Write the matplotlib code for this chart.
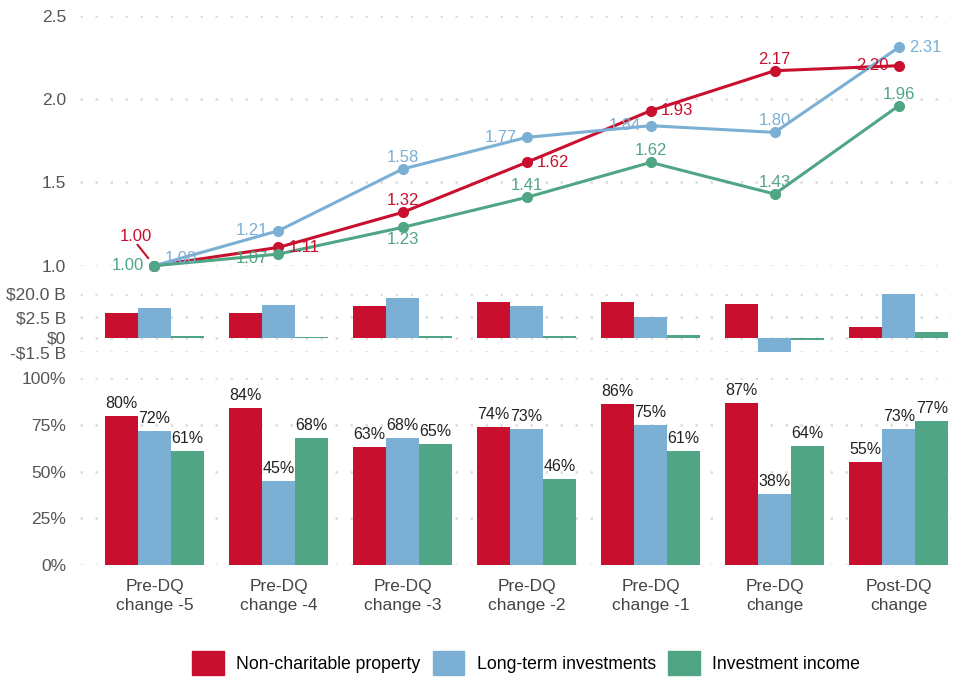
import numpy as np
import matplotlib.pyplot as plt
from matplotlib.patches import Patch

plt.rcParams['font.family'] = ['Liberation Sans', 'DejaVu Sans']

# periods along the x axis
periods = ["Pre-DQ\nchange -5", "Pre-DQ\nchange -4", "Pre-DQ\nchange -3",
           "Pre-DQ\nchange -2", "Pre-DQ\nchange -1", "Pre-DQ\nchange",
           "Post-DQ\nchange"]
series = ["Non-charitable property", "Long-term investments", "Investment income"]

# growth index (top panel)
idx_ncp = [1.00, 1.11, 1.32, 1.62, 1.93, 2.17, 2.20]
idx_lti = [1.00, 1.21, 1.58, 1.77, 1.84, 1.80, 2.31]
idx_inc = [1.00, 1.07, 1.23, 1.41, 1.62, 1.43, 1.96]

# change in dollars, billions (middle panel)
amt_ncp = [5.7, 5.7, 10.9, 13.8, 13.8, 12.4, 1.3]
amt_lti = [9.4, 11.6, 16.8, 10.9, 2.7, -1.5, 19.8]
amt_inc = [0.2, 0.05, 0.2, 0.2, 0.35, -0.2, 0.7]

# share of organisations, percent (bottom panel)
pct_ncp = [80, 84, 63, 74, 86, 87, 55]
pct_lti = [72, 45, 68, 73, 75, 38, 73]
pct_inc = [61, 68, 65, 46, 61, 64, 77]

# middle axis ticks and where they sit (compressed scale)
amt_ticks = [-1.5, 0, 2.5, 20.0]
amt_tick_labels = ["-$1.5 B", "$0", "$2.5 B", "$20.0 B"]
amt_tick_pos = [-14.6, 0.0, 20.4, 44.0]

colors = ["#C8102E", "#7BAFD4", "#4FA584"]
grid_kw = dict(color="#dcdcdc", linestyle=(0, (1, 5)), linewidth=1.8)

# label offsets in pixels for each point of each line (dx, dy, ha, va)
R, L, A, B = (10, 0, "left", "center"), (-10, 0, "right", "center"), \
    (0, 4, "center", "bottom"), (0, -5, "center", "top")
off_ncp = [(-19, 22, "center", "bottom"), R, A, R, R, A, L]
off_lti = [(10, 7, "left", "center"), L, A, L, L, A, R]
off_inc = [L, (-10, -4, "right", "center"), B, A, A, A, A]

x = np.arange(len(periods))
w = 0.8 / 3
xlim = (-0.6, 6.42)

fig = plt.figure(figsize=(9.57, 6.77), dpi=100)
ax1 = fig.add_axes([0.0836, 0.6075, 0.910, 0.3693])
ax2 = fig.add_axes([0.0836, 0.4796, 0.910, 0.0866])
ax3 = fig.add_axes([0.0836, 0.1654, 0.910, 0.2758])

for ax in (ax1, ax2, ax3):
    for s in ax.spines.values():
        s.set_visible(False)
    ax.tick_params(length=0, labelsize=12.5, labelcolor="#555555", pad=10)
    ax.set_xlim(*xlim)
    ax.set_axisbelow(True)
    ax.yaxis.grid(True, **grid_kw)

# --- top: index lines
for vals, c, offs in zip([idx_ncp, idx_lti, idx_inc], colors,
                         [off_ncp, off_lti, off_inc]):
    ax1.plot(x, vals, color=c, lw=2.2, marker="o", ms=7, clip_on=False,
             zorder=3)
    for xi, v, (dx, dy, ha, va) in zip(x, vals, offs):
        ax1.annotate(f"{v:.2f}", (xi, v), xytext=(dx, dy),
                     textcoords="offset pixels", ha=ha, va=va, color=c,
                     fontsize=12, zorder=4)
# leader line for the first red label
ax1.annotate("", (x[0], idx_ncp[0]), xytext=(-17, 21),
             textcoords="offset pixels",
             arrowprops=dict(arrowstyle="-", color=colors[0], lw=1.5,
                             shrinkA=0, shrinkB=7))
ax1.set_ylim(1.0, 2.5)
ax1.set_yticks([1.0, 1.5, 2.0, 2.5])
ax1.set_xticks([])

# --- middle: dollar change on a compressed scale
def fwd(v):
    return np.interp(v, amt_ticks, amt_tick_pos)

def inv(p):
    return np.interp(p, amt_tick_pos, amt_ticks)

ax2.set_yscale("function", functions=(fwd, inv))
for i, (vals, c) in enumerate(zip([amt_ncp, amt_lti, amt_inc], colors)):
    ax2.bar(x + (i - 1) * w, vals, width=w, color=c, zorder=2)
ax2.set_ylim(-1.5, 20.0)
ax2.set_yticks(amt_ticks)
ax2.set_yticklabels(amt_tick_labels)
ax2.yaxis.set_minor_locator(plt.NullLocator())
ax2.set_xticks([])

# --- bottom: percentages
for i, (vals, c) in enumerate(zip([pct_ncp, pct_lti, pct_inc], colors)):
    bars = ax3.bar(x + (i - 1) * w, vals, width=w, color=c, zorder=2)
    for b, v in zip(bars, vals):
        ax3.annotate(f"{v}%", (b.get_x() + b.get_width() / 2, v),
                     xytext=(0, 5), textcoords="offset pixels",
                     ha="center", va="bottom", fontsize=11.5, color="#222222")
ax3.set_ylim(0, 100)
ax3.set_yticks([0, 25, 50, 75, 100])
ax3.set_yticklabels([f"{t}%" for t in [0, 25, 50, 75, 100]])
ax3.set_xticks(x)
ax3.set_xticklabels(periods, linespacing=1.3)
ax3.tick_params(axis="x", labelcolor="#444444", pad=10)

handles = [Patch(color=c) for c in colors]
fig.legend(handles, series, loc="center", ncol=3, frameon=False,
           fontsize=12.7, bbox_to_anchor=(526 / 957, 1 - 663 / 677),
           handlelength=1.8, handleheight=1.7, handletextpad=0.7,
           columnspacing=0.7)

fig.savefig("out.png", dpi=100)
